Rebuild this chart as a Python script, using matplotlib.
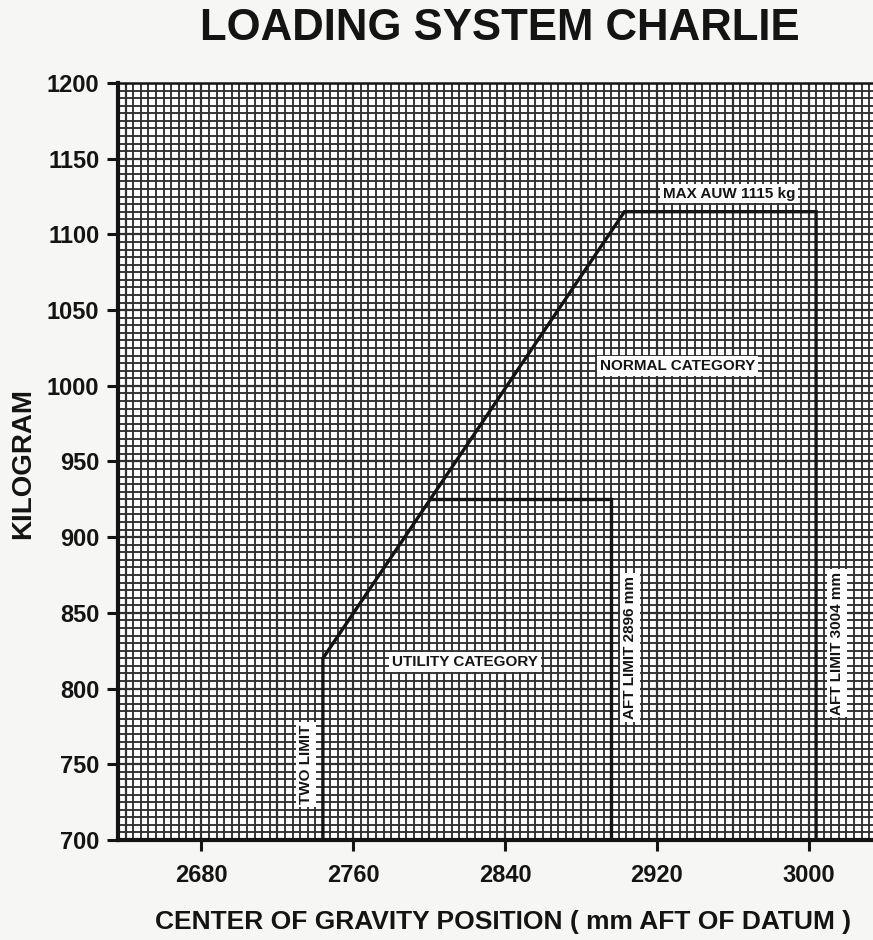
import numpy as np
import matplotlib.pyplot as plt

# envelope (cg in mm aft of datum, weight in kg)
normal_cg = [2744, 2744, 2903, 3004, 3004]
normal_kg = [700, 820, 1115, 1115, 700]
utility_cg = [2801, 2896, 2896]
utility_kg = [925, 925, 700]

x_ticks = [2680, 2760, 2840, 2920, 3000]
y_ticks = [700, 750, 800, 850, 900, 950, 1000, 1050, 1100, 1150, 1200]

# (text, cg, kg, rotation)
labels = [
    ("MAX AUW 1115 kg", 2958, 1127, 0),
    ("NORMAL CATEGORY", 2931, 1013, 0),
    ("UTILITY CATEGORY", 2819, 817.5, 0),
    ("TWO LIMIT", 2735, 750, 90),
    ("AFT LIMIT 2896 mm", 2906, 827, 90),
    ("AFT LIMIT 3004 mm", 3015, 830, 90),
]

plt.rcParams["font.family"] = ["Liberation Sans", "DejaVu Sans"]
plt.rcParams["font.weight"] = "bold"

bg = "#f6f6f4"
ink = "#141414"

fig = plt.figure(figsize=(8.73, 9.40), dpi=100, facecolor=bg)
ax = fig.add_axes([0.1352, 0.1064, 0.8648, 0.8053])
ax.set_facecolor("white")

ax.set_xlim(2636, 3034)
ax.set_ylim(700, 1200)

# graph paper
for x in np.arange(2636, 3036, 4):
    heavy = (x - 2640) % 40 == 0
    ax.axvline(x, color="#303030", lw=1.6 if heavy else 1.35, zorder=1)
for y in np.arange(700, 1201, 5):
    heavy = y % 50 == 0
    ax.axhline(y, color="#303030", lw=1.6 if heavy else 1.35, zorder=1)

ax.plot(normal_cg, normal_kg, color=ink, lw=2.4, solid_joinstyle="miter", zorder=3)
ax.plot(utility_cg, utility_kg, color=ink, lw=2.4, solid_joinstyle="miter", zorder=3)

for text, cx, cy, rot in labels:
    ax.text(cx, cy, text, rotation=rot, ha="center", va="center",
            fontsize=11, fontweight="bold", color=ink, zorder=4,
            bbox=dict(facecolor="white", edgecolor="none", pad=2.0))

ax.set_xticks(x_ticks)
ax.set_yticks(y_ticks)
ax.tick_params(axis="both", direction="out", length=8, width=2.2,
               labelsize=17, colors=ink, pad=5.5)
ax.tick_params(axis="x", pad=9)
for lab in ax.get_xticklabels() + ax.get_yticklabels():
    lab.set_fontweight("bold")

for side in ["left", "bottom"]:
    ax.spines[side].set_linewidth(3)
    ax.spines[side].set_color(ink)
ax.spines["top"].set_linewidth(1.8)
ax.spines["top"].set_color(ink)
ax.spines["right"].set_visible(False)

fig.text(0.026, 0.507, "KILOGRAM", rotation=90, ha="center", va="center",
         fontsize=20, fontweight="bold", color=ink)
fig.text(0.576, 0.019, "CENTER OF GRAVITY POSITION ( mm AFT OF DATUM )",
         ha="center", va="center", fontsize=19, fontweight="bold", color=ink)
fig.text(0.573, 0.970, "LOADING SYSTEM CHARLIE", ha="center", va="center",
         fontsize=31.5, fontweight="bold", color=ink)

fig.savefig("out.png", dpi=100, facecolor=bg)
